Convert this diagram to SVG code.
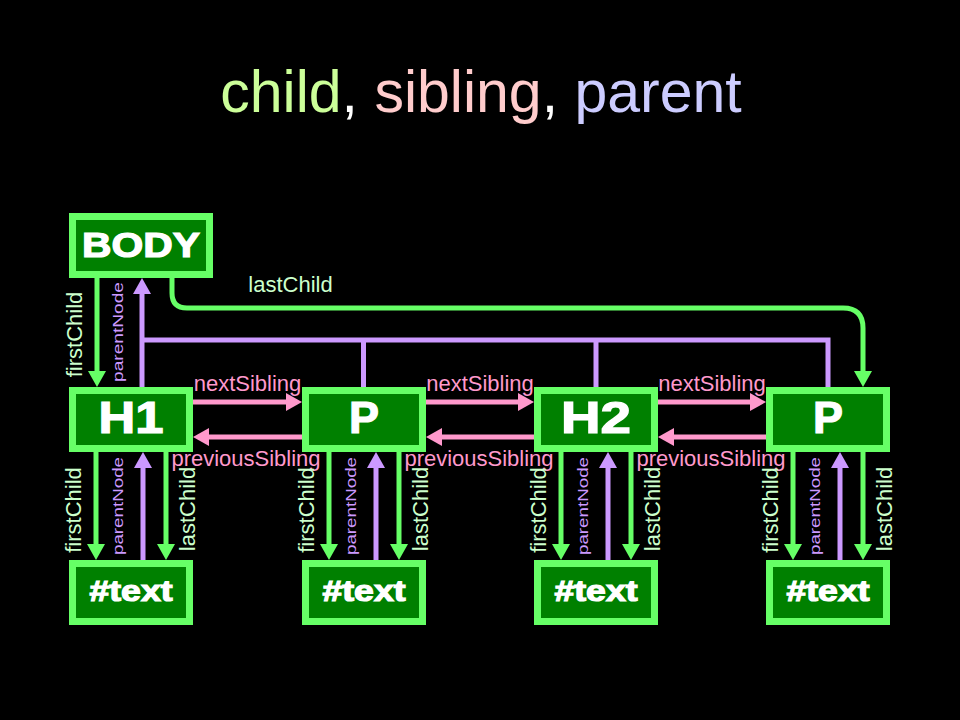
<svg xmlns="http://www.w3.org/2000/svg" width="960" height="720" viewBox="0 0 960 720">
<defs>
<style>
.node rect{fill:#008000;stroke:#66ff66;stroke-width:7}
.nt{font-family:"Liberation Sans",Arial,sans-serif;font-weight:bold;fill:#fff;stroke:#fff;stroke-width:1.2;text-anchor:middle}
.g{fill:none;stroke:#66ff66;stroke-width:5}
.pu{fill:none;stroke:#cc99ff;stroke-width:5}
.pk{fill:none;stroke:#ff99cc;stroke-width:5}
.lbl{font-family:"Liberation Sans",Arial,sans-serif;font-size:22px;text-anchor:middle}
.lg{fill:#ccffcc}
.lp{fill:#cc99ff;font-size:15px}
.lk{fill:#ff99cc}
.title{font-family:"Liberation Sans",Arial,sans-serif;font-size:59px;text-anchor:middle;fill:#fff}
</style>
<marker id="ag" markerUnits="userSpaceOnUse" markerWidth="16" markerHeight="18" refX="4" refY="9" orient="auto" viewBox="0 0 16 18"><path d="M0,0 L16,9 L0,18 z" fill="#66ff66"/></marker>
<marker id="ap" markerUnits="userSpaceOnUse" markerWidth="16" markerHeight="18" refX="4" refY="9" orient="auto" viewBox="0 0 16 18"><path d="M0,0 L16,9 L0,18 z" fill="#cc99ff"/></marker>
<marker id="ak" markerUnits="userSpaceOnUse" markerWidth="16" markerHeight="18" refX="4" refY="9" orient="auto" viewBox="0 0 16 18"><path d="M0,0 L16,9 L0,18 z" fill="#ff99cc"/></marker>
</defs>
<rect width="960" height="720" fill="#000"/>
<text class="title" x="481" y="112"><tspan fill="#ccff99">child</tspan>, <tspan fill="#ffcccc">sibling</tspan>, <tspan fill="#ccccff">parent</tspan></text>

<g id="connectors">
<!-- BODY -> H1 -->
<path class="g" d="M97,278 V375" marker-end="url(#ag)"/>
<path class="pu" d="M142,387 V290" marker-end="url(#ap)"/>
<path class="pu" d="M142,340 H828 V387 M363.5,340 V387 M596,340 V387" stroke-linejoin="miter"/>
<path class="g" d="M172,278 V293 Q172,308 187,308 H843 Q863,308 863,328 V375" marker-end="url(#ag)"/>
<!-- siblings -->
<path class="pk" d="M193,402 H290" marker-end="url(#ak)"/>
<path class="pk" d="M302,437 H205" marker-end="url(#ak)"/>
<path class="pk" d="M426,402 H522" marker-end="url(#ak)"/>
<path class="pk" d="M534,437 H438" marker-end="url(#ak)"/>
<path class="pk" d="M658,402 H754" marker-end="url(#ak)"/>
<path class="pk" d="M766,437 H670" marker-end="url(#ak)"/>
<!-- children -->
<path class="g" d="M96,452 V548" marker-end="url(#ag)"/>
<path class="pu" d="M143,560 V464" marker-end="url(#ap)"/>
<path class="g" d="M166,452 V548" marker-end="url(#ag)"/>
<path class="g" d="M329,452 V548" marker-end="url(#ag)"/>
<path class="pu" d="M376,560 V464" marker-end="url(#ap)"/>
<path class="g" d="M399,452 V548" marker-end="url(#ag)"/>
<path class="g" d="M561,452 V548" marker-end="url(#ag)"/>
<path class="pu" d="M608,560 V464" marker-end="url(#ap)"/>
<path class="g" d="M631,452 V548" marker-end="url(#ag)"/>
<path class="g" d="M793,452 V548" marker-end="url(#ag)"/>
<path class="pu" d="M840,560 V464" marker-end="url(#ap)"/>
<path class="g" d="M863,452 V548" marker-end="url(#ag)"/>

<!-- labels -->
<text class="lbl lg" transform="translate(82,334.5) rotate(-90)">firstChild</text>
<text class="lbl lp" transform="translate(123,332) rotate(-90)" textLength="100" lengthAdjust="spacingAndGlyphs">parentNode</text>
<text class="lbl lg" x="290.5" y="292">lastChild</text>

<text class="lbl lk" x="247.5" y="391">nextSibling</text>
<text class="lbl lk" x="480" y="391">nextSibling</text>
<text class="lbl lk" x="712" y="391">nextSibling</text>
<text class="lbl lk" x="246" y="466">previousSibling</text>
<text class="lbl lk" x="479" y="466">previousSibling</text>
<text class="lbl lk" x="711" y="466">previousSibling</text>

<text class="lbl lg" transform="translate(81,510) rotate(-90)">firstChild</text>
<text class="lbl lp" transform="translate(123,506) rotate(-90)" textLength="98" lengthAdjust="spacingAndGlyphs">parentNode</text>
<text class="lbl lg" transform="translate(195,509) rotate(-90)">lastChild</text>
<text class="lbl lg" transform="translate(314,510) rotate(-90)">firstChild</text>
<text class="lbl lp" transform="translate(356,506) rotate(-90)" textLength="98" lengthAdjust="spacingAndGlyphs">parentNode</text>
<text class="lbl lg" transform="translate(428,509) rotate(-90)">lastChild</text>
<text class="lbl lg" transform="translate(546,510) rotate(-90)">firstChild</text>
<text class="lbl lp" transform="translate(588,506) rotate(-90)" textLength="98" lengthAdjust="spacingAndGlyphs">parentNode</text>
<text class="lbl lg" transform="translate(660,509) rotate(-90)">lastChild</text>
<text class="lbl lg" transform="translate(778,510) rotate(-90)">firstChild</text>
<text class="lbl lp" transform="translate(820,506) rotate(-90)" textLength="98" lengthAdjust="spacingAndGlyphs">parentNode</text>
<text class="lbl lg" transform="translate(892,509) rotate(-90)">lastChild</text>
</g>

<g id="body" class="node"><rect x="72.5" y="216.5" width="137" height="58"/><text class="nt" x="141" y="257" font-size="35" textLength="118" lengthAdjust="spacingAndGlyphs">BODY</text></g>
<g id="h1" class="node"><rect x="72.5" y="390.5" width="117" height="58"/><text class="nt" x="131" y="433" font-size="44" textLength="65" lengthAdjust="spacingAndGlyphs">H1</text></g>
<g id="p1" class="node"><rect x="305.5" y="390.5" width="117" height="58"/><text class="nt" x="364" y="433" font-size="44" textLength="30" lengthAdjust="spacingAndGlyphs">P</text></g>
<g id="h2" class="node"><rect x="537.5" y="390.5" width="117" height="58"/><text class="nt" x="596" y="433" font-size="44" textLength="70" lengthAdjust="spacingAndGlyphs">H2</text></g>
<g id="p2" class="node"><rect x="769.5" y="390.5" width="117" height="58"/><text class="nt" x="828" y="433" font-size="44" textLength="30" lengthAdjust="spacingAndGlyphs">P</text></g>
<g id="text1" class="node"><rect x="72.5" y="563.5" width="117" height="58"/><text class="nt" x="131" y="601" font-size="29" textLength="83" lengthAdjust="spacingAndGlyphs">#text</text></g>
<g id="text2" class="node"><rect x="305.5" y="563.5" width="117" height="58"/><text class="nt" x="364" y="601" font-size="29" textLength="83" lengthAdjust="spacingAndGlyphs">#text</text></g>
<g id="text3" class="node"><rect x="537.5" y="563.5" width="117" height="58"/><text class="nt" x="596" y="601" font-size="29" textLength="83" lengthAdjust="spacingAndGlyphs">#text</text></g>
<g id="text4" class="node"><rect x="769.5" y="563.5" width="117" height="58"/><text class="nt" x="828" y="601" font-size="29" textLength="83" lengthAdjust="spacingAndGlyphs">#text</text></g>
</svg>
